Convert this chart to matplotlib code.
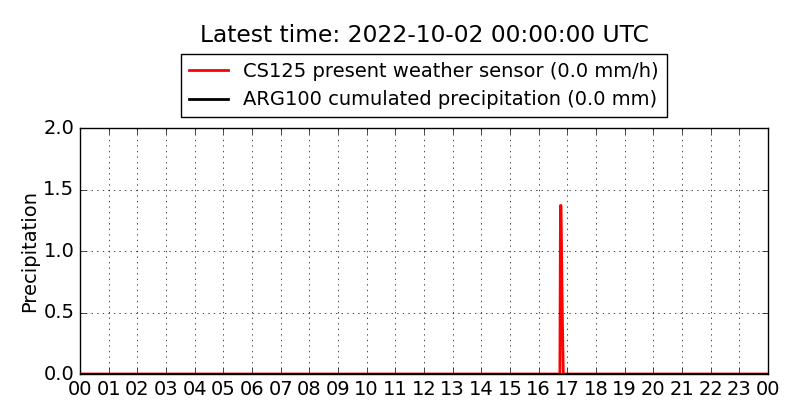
import matplotlib
matplotlib.use("Agg")
import matplotlib.pyplot as plt

plt.style.use("classic")

# hours since 2022-10-01 00:00 UTC
cs125_hours = [0.0, 16.74, 16.76, 16.78, 16.83, 16.86, 24.0]
cs125_rate = [0.0, 0.0, 1.37, 1.37, 0.41, 0.0, 0.0]  # mm/h

arg100_hours = [0.0, 24.0]
arg100_cum = [0.0, 0.0]  # mm

hour_ticks = list(range(25))
hour_labels = ["%02d" % (h % 24) for h in hour_ticks]

title = "Latest time: 2022-10-02 00:00:00 UTC"
label_cs = "CS125 present weather sensor (0.0 mm/h)"
label_arg = "ARG100 cumulated precipitation (0.0 mm)"

fig = plt.figure(figsize=(8, 4.2), dpi=100, facecolor="white")
ax = fig.add_axes([0.1, 0.1095, 0.86, 0.5857])

ax.plot(cs125_hours, cs125_rate, color="red", lw=2, label=label_cs)
ax.plot(arg100_hours, arg100_cum, color="black", lw=2, label=label_arg)

ax.set_xlim(0, 24)
ax.set_ylim(0, 2.0)
ax.set_xticks(hour_ticks)
ax.set_xticklabels(hour_labels, fontsize=14)
ax.set_yticks([0.0, 0.5, 1.0, 1.5, 2.0])
ax.set_yticklabels(["0.0", "0.5", "1.0", "1.5", "2.0"], fontsize=14)
ax.set_ylabel("Precipitation", fontsize=14, labelpad=3)
ax.grid(True)

fig.legend(loc="lower center", bbox_to_anchor=(0.53, 0.721), fontsize=14,
           numpoints=1, handlelength=2, borderaxespad=0, frameon=True)
fig.text(0.53, 0.915, title, ha="center", va="center", fontsize=16.8)

fig.savefig("out.png", dpi=100, facecolor="white")
